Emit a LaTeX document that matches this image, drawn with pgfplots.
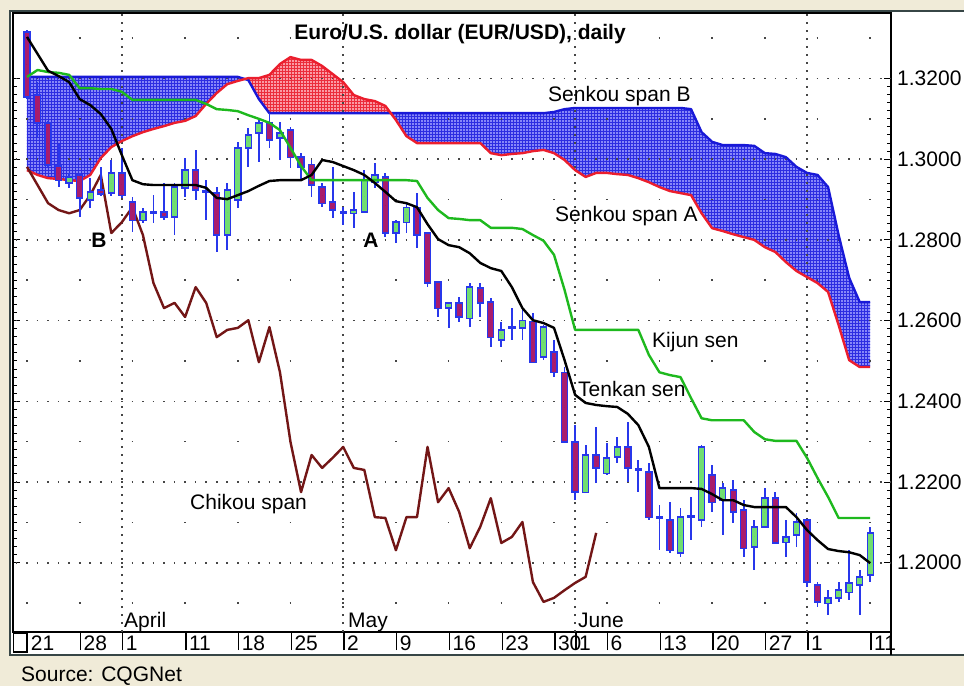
\documentclass[border=0pt]{standalone}
\usepackage{pgfplots}
\pgfplotsset{compat=1.18}
\usepackage{pgfplotstable}
\usepgfplotslibrary{fillbetween}
\usetikzlibrary{patterns}
\usepackage{fontspec}
\setmainfont{Liberation Sans}
\definecolor{beige}{RGB}{240,235,216}
\definecolor{framec}{RGB}{55,70,70}
\definecolor{wick}{RGB}{40,55,235}
\definecolor{bullc}{RGB}{112,222,112}
\definecolor{bearc}{RGB}{168,28,108}
\definecolor{kijunc}{RGB}{30,185,30}
\definecolor{spanAc}{RGB}{235,30,45}
\definecolor{spanBc}{RGB}{25,25,215}
\definecolor{chikouc}{RGB}{115,22,22}
\definecolor{cloudB}{RGB}{135,135,248}
\definecolor{cloudBline}{RGB}{45,45,225}
\definecolor{cloudA}{RGB}{250,155,165}
\definecolor{cloudAline}{RGB}{235,45,60}
\definecolor{dotc}{RGB}{70,70,70}
\newcommand\fs{\fontsize{21}{25}\selectfont}
\newcommand\tb{\vrule width 1.3pt height 17pt depth 0pt\hspace{2.5pt}}
\pgfplotsset{candle/.style={only marks, mark=*, mark size=0pt, mark options={draw=none, fill=none},
  error bars/.cd, y dir=both, y explicit, error mark=none}}

% candles: i open high low close
\pgfplotstableread{
i O H L C
4 1.2941 1.2966 1.2929 1.2956
6 1.2899 1.2953 1.2879 1.2919
8 1.2916 1.2998 1.2909 1.2966
11 1.2849 1.2879 1.2842 1.2869
14 1.2857 1.2941 1.2812 1.2931
15 1.2929 1.3003 1.2906 1.2973
19 1.2812 1.2941 1.2775 1.2924
20 1.2899 1.3043 1.2879 1.3028
21 1.3028 1.3077 1.2981 1.3060
22 1.3065 1.3102 1.2993 1.3090
24 1.3053 1.3092 1.2998 1.3065
31 1.2866 1.2919 1.2830 1.2874
32 1.2869 1.2973 1.2866 1.2948
33 1.2943 1.2991 1.2929 1.2961
35 1.2817 1.2849 1.2792 1.2844
36 1.2844 1.2891 1.2817 1.2881
40 1.2631 1.2646 1.2582 1.2644
42 1.2606 1.2693 1.2584 1.2683
45 1.2552 1.2597 1.2535 1.2577
47 1.2582 1.2626 1.2552 1.2601
49 1.2510 1.2589 1.2502 1.2584
53 1.2175 1.2292 1.2173 1.2267
55 1.2222 1.2297 1.2217 1.2260
56 1.2262 1.2312 1.2247 1.2287
62 1.2024 1.2136 1.2014 1.2113
64 1.2106 1.2292 1.2089 1.2287
66 1.2155 1.2198 1.2069 1.2185
69 1.2039 1.2106 1.1982 1.2089
70 1.2089 1.2185 1.2086 1.2160
72 1.2051 1.2106 1.2014 1.2064
73 1.2069 1.2123 1.2039 1.2101
76 1.1900 1.1932 1.1871 1.1913
77 1.1913 1.1952 1.1903 1.1932
78 1.1927 1.2031 1.1908 1.1950
79 1.1945 1.1982 1.1871 1.1965
80 1.1970 1.2089 1.1952 1.2074
}\bulltab

\pgfplotstableread{
i O H L C
0 1.3315 1.3320 1.3149 1.3154
1 1.3159 1.3191 1.3055 1.3090
2 1.3090 1.3095 1.2981 1.2986
3 1.2983 1.3038 1.2931 1.2948
5 1.2961 1.2966 1.2857 1.2904
7 1.2924 1.2981 1.2909 1.2914
9 1.2966 1.3028 1.2904 1.2911
10 1.2894 1.2906 1.2820 1.2849
12 1.2869 1.2911 1.2842 1.2867
13 1.2869 1.2941 1.2849 1.2857
16 1.2973 1.3023 1.2899 1.2924
17 1.2921 1.2948 1.2849 1.2919
18 1.2916 1.2931 1.2770 1.2812
23 1.3090 1.3114 1.3028 1.3048
25 1.3072 1.3080 1.2978 1.3005
26 1.3005 1.3015 1.2948 1.2981
27 1.2986 1.2998 1.2906 1.2936
28 1.2931 1.2941 1.2881 1.2891
29 1.2894 1.2981 1.2854 1.2874
30 1.2869 1.2881 1.2837 1.2866
34 1.2956 1.2966 1.2807 1.2817
37 1.2881 1.2916 1.2780 1.2812
38 1.2817 1.2820 1.2683 1.2693
39 1.2696 1.2699 1.2609 1.2631
41 1.2644 1.2659 1.2597 1.2609
43 1.2681 1.2693 1.2609 1.2644
44 1.2646 1.2656 1.2535 1.2559
46 1.2584 1.2631 1.2552 1.2582
48 1.2597 1.2619 1.2495 1.2497
50 1.2522 1.2552 1.2460 1.2472
51 1.2472 1.2485 1.2297 1.2299
52 1.2299 1.2341 1.2155 1.2175
54 1.2267 1.2336 1.2198 1.2235
57 1.2287 1.2349 1.2200 1.2235
58 1.2232 1.2255 1.2175 1.2230
59 1.2225 1.2247 1.2106 1.2113
60 1.2113 1.2143 1.2031 1.2111
61 1.2106 1.2150 1.2024 1.2031
63 1.2116 1.2163 1.2056 1.2113
65 1.2217 1.2242 1.2126 1.2150
67 1.2180 1.2205 1.2099 1.2126
68 1.2131 1.2155 1.2014 1.2036
71 1.2160 1.2175 1.2049 1.2049
74 1.2106 1.2108 1.1940 1.1952
75 1.1945 1.1952 1.1891 1.1903
}\beartab

% ichimoku lines: i tenkan kijun senkouA senkouB
\pgfplotstableread{
i T K A B
0 1.3303 1.3204 1.2973 1.3204
1 1.3261 1.3221 1.2961 1.3204
2 1.3219 1.3216 1.2953 1.3204
3 1.3206 1.3214 1.2951 1.3204
4 1.3191 1.3209 1.2948 1.3204
5 1.3149 1.3176 1.2946 1.3204
6 1.3134 1.3176 1.2961 1.3204
7 1.3112 1.3174 1.3003 1.3204
8 1.3075 1.3174 1.3030 1.3204
9 1.3010 1.3167 1.3045 1.3204
10 1.2948 1.3147 1.3057 1.3204
11 1.2938 1.3147 1.3067 1.3204
12 1.2936 1.3147 1.3075 1.3204
13 1.2936 1.3147 1.3082 1.3204
14 1.2936 1.3147 1.3090 1.3204
15 1.2936 1.3147 1.3095 1.3204
16 1.2936 1.3147 1.3107 1.3204
17 1.2929 1.3137 1.3137 1.3204
18 1.2904 1.3124 1.3164 1.3204
19 1.2901 1.3122 1.3186 1.3204
20 1.2911 1.3119 1.3194 1.3204
21 1.2921 1.3109 1.3201 1.3196
22 1.2934 1.3100 1.3201 1.3149
23 1.2946 1.3090 1.3209 1.3114
24 1.2948 1.3072 1.3236 1.3114
25 1.2948 1.3028 1.3253 1.3114
26 1.2948 1.2983 1.3246 1.3114
27 1.2961 1.2948 1.3246 1.3114
28 1.2998 1.2948 1.3231 1.3114
29 1.2993 1.2948 1.3211 1.3114
30 1.2983 1.2948 1.3191 1.3114
31 1.2973 1.2948 1.3159 1.3114
32 1.2961 1.2948 1.3149 1.3114
33 1.2941 1.2948 1.3144 1.3114
34 1.2919 1.2948 1.3132 1.3114
35 1.2896 1.2948 1.3097 1.3114
36 1.2891 1.2948 1.3057 1.3114
37 1.2881 1.2946 1.3040 1.3114
38 1.2839 1.2904 1.3040 1.3114
39 1.2802 1.2874 1.3040 1.3114
40 1.2787 1.2854 1.3040 1.3114
41 1.2782 1.2852 1.3040 1.3114
42 1.2767 1.2849 1.3040 1.3114
43 1.2743 1.2849 1.3040 1.3114
44 1.2730 1.2830 1.3015 1.3114
45 1.2723 1.2830 1.3010 1.3114
46 1.2683 1.2830 1.3013 1.3114
47 1.2631 1.2827 1.3015 1.3114
48 1.2601 1.2812 1.3020 1.3114
49 1.2594 1.2798 1.3023 1.3114
50 1.2582 1.2763 1.3015 1.3117
51 1.2502 1.2676 1.2998 1.3124
52 1.2416 1.2577 1.2973 1.3127
53 1.2396 1.2577 1.2956 1.3127
54 1.2391 1.2577 1.2966 1.3127
55 1.2388 1.2577 1.2966 1.3127
56 1.2386 1.2577 1.2963 1.3127
57 1.2369 1.2577 1.2961 1.3127
58 1.2341 1.2577 1.2953 1.3127
59 1.2287 1.2515 1.2943 1.3127
60 1.2185 1.2472 1.2931 1.3127
61 1.2185 1.2465 1.2921 1.3127
62 1.2185 1.2460 1.2916 1.3127
63 1.2185 1.2408 1.2911 1.3124
64 1.2183 1.2358 1.2866 1.3067
65 1.2170 1.2353 1.2829 1.3043
66 1.2155 1.2353 1.2822 1.3035
67 1.2155 1.2353 1.2814 1.3035
68 1.2143 1.2353 1.2807 1.3035
69 1.2138 1.2324 1.2800 1.3033
70 1.2138 1.2306 1.2782 1.3015
71 1.2138 1.2302 1.2770 1.3013
72 1.2138 1.2302 1.2745 1.3005
73 1.2113 1.2302 1.2723 1.2981
74 1.2081 1.2260 1.2708 1.2966
75 1.2056 1.2210 1.2693 1.2961
76 1.2034 1.2163 1.2671 1.2931
77 1.2029 1.2111 1.2589 1.2812
78 1.2026 1.2111 1.2502 1.2706
79 1.2019 1.2111 1.2485 1.2646
80 1.1999 1.2111 1.2485 1.2646
}\linestab

% chikou span
\pgfplotstableread{
j Ch
0 1.2981
1 1.2936
2 1.2891
3 1.2874
4 1.2866
5 1.2874
6 1.2911
7 1.2961
8 1.2817
9 1.2844
10 1.2881
11 1.2812
12 1.2693
13 1.2631
14 1.2644
15 1.2609
16 1.2683
17 1.2644
18 1.2559
19 1.2577
20 1.2582
21 1.2601
22 1.2497
23 1.2584
24 1.2472
25 1.2299
26 1.2175
27 1.2267
28 1.2235
29 1.2260
30 1.2287
31 1.2235
32 1.2230
33 1.2113
34 1.2111
35 1.2031
36 1.2113
37 1.2113
38 1.2287
39 1.2150
40 1.2185
41 1.2126
42 1.2036
43 1.2089
44 1.2160
45 1.2049
46 1.2064
47 1.2101
48 1.1952
49 1.1903
50 1.1913
51 1.1932
52 1.1950
53 1.1965
54 1.2074
}\chiktab

\begin{document}
\begin{tikzpicture}
% beige surround only (no fill over the plot area, so the cloud layer stays visible)
\fill[beige] (0pt,676pt) rectangle (964pt,686pt);
\fill[beige] (0pt,0pt) rectangle (964pt,30pt);
\fill[beige] (0pt,0pt) rectangle (9pt,686pt);
\draw[framec, line width=2.5pt] (964pt,31pt) -- (10pt,31pt) -- (10pt,675pt) -- (964pt,675pt);
\begin{axis}[
  at={(13pt,54pt)}, anchor=south west, scale only axis,
  width=878pt, height=619pt,
  xmin=-1.328, xmax=81.97, ymin=1.18284, ymax=1.33623,
  axis line style={black, line width=1.2pt},
  ytick={1.20,1.22,1.24,1.26,1.28,1.30,1.32},
  minor y tick num=9,
  yticklabel pos=right,
  ytick pos=both,
  tick align=inside,
  major tick length=7pt, minor tick length=4pt,
  tick style={black, line width=1pt},
  /pgf/number format/assume math mode=true,
  scaled y ticks=false,
  yticklabel style={/pgf/number format/fixed, /pgf/number format/fixed zerofill,
     /pgf/number format/precision=4, font=\fs, anchor=west, inner sep=0pt, xshift=6pt},
  xtick={0,5,9,15,20,25,30,35,40,45,50,52,55,60,65,70,74,80},
  xticklabels={{\tb 21},{\tb 28},{\tb 1},{\tb 11},{\tb 18},{\tb 25},{\tb 2},{\tb 9},{\tb 16},{\tb 23},{\tb 30},{\tb 1},{\tb 6},{\tb 13},{\tb 20},{\tb 27},{\tb 1},{\tb 11}},
  xtick style={draw=none},
  xticklabel style={font=\fs, anchor=north west, inner sep=0pt, yshift=-1pt},
]
% cloud
\addplot[draw=none, name path=SA, forget plot] table[x=i, y=A]{\linestab};
\addplot[draw=none, name path=SB, forget plot] table[x=i, y=B]{\linestab};
\addplot[fill=cloudB, forget plot] fill between[of=SA and SB, split,
  every even segment/.style={fill=cloudB, postaction={pattern=grid, pattern color=cloudBline}},
  every odd segment/.style={fill=cloudA, postaction={pattern=grid, pattern color=cloudAline}}];
% grid dots
\pgfplotsinvokeforeach{1.20,1.22,1.24,1.26,1.28,1.30,1.32}{
  \draw[dotc, line width=1.6pt, dash pattern=on 1.6pt off 8.94pt, dash phase=7.88pt]
    (axis cs:-1.328,#1) -- (axis cs:81.97,#1);
}
\pgfplotsinvokeforeach{1.19,1.21,1.23,1.25,1.27,1.29,1.31,1.33}{
  \draw[dotc, line width=1.6pt, dash pattern=on 1.6pt off 51.1pt, dash phase=39.5pt]
    (axis cs:-1.328,#1) -- (axis cs:81.97,#1);
}
\pgfplotsinvokeforeach{9,30,52,74}{
  \draw[dotc, line width=1.6pt, dash pattern=on 1.6pt off 6.4pt]
    (axis cs:#1,1.18284) -- (axis cs:#1,1.33623);
}
\addplot[spanBc, line width=2.4pt, line join=round] table[x=i, y=B]{\linestab};
\addplot[spanAc, line width=2.4pt, line join=round] table[x=i, y=A]{\linestab};
\addplot[chikouc, line width=2.4pt, line join=round] table[x=j, y=Ch]{\chiktab};
% candles: wicks
\addplot[candle, error bar style={wick, line width=1.8pt}]
  table[x=i, y expr={(\thisrow{H}+\thisrow{L})/2}, y error expr={(\thisrow{H}-\thisrow{L})/2}]{\bulltab};
\addplot[candle, error bar style={wick, line width=1.8pt}]
  table[x=i, y expr={(\thisrow{H}+\thisrow{L})/2}, y error expr={(\thisrow{H}-\thisrow{L})/2}]{\beartab};
% body outlines
\addplot[candle, error bar style={wick, line width=7.4pt}]
  table[x=i, y expr={(\thisrow{O}+\thisrow{C})/2}, y error expr={abs(\thisrow{O}-\thisrow{C})/2+0.00018}]{\bulltab};
\addplot[candle, error bar style={wick, line width=7.4pt}]
  table[x=i, y expr={(\thisrow{O}+\thisrow{C})/2}, y error expr={abs(\thisrow{O}-\thisrow{C})/2+0.00018}]{\beartab};
% body fills
\addplot[candle, error bar style={bullc, line width=4.8pt}]
  table[x=i, y expr={(\thisrow{O}+\thisrow{C})/2}, y error expr={max(abs(\thisrow{O}-\thisrow{C})/2-0.00016,0)}]{\bulltab};
\addplot[candle, error bar style={bearc, line width=4.8pt}]
  table[x=i, y expr={(\thisrow{O}+\thisrow{C})/2}, y error expr={max(abs(\thisrow{O}-\thisrow{C})/2-0.00016,0)}]{\beartab};
% kijun and tenkan
\addplot[kijunc, line width=2.4pt, line join=round] table[x=i, y=K]{\linestab};
\addplot[black, line width=2.4pt, line join=round] table[x=i, y=T]{\linestab};
\end{axis}
% date row details
\draw[black, line width=1.3pt] (13.6pt,34pt) rectangle (27pt,53pt);
\draw[black, line width=1.2pt] (891pt,54pt) -- (891pt,31pt);
% labels
\node[font=\fs\bfseries, anchor=base, inner sep=0pt] at (460pt,646pt) {Euro/U.S. dollar (EUR/USD), daily};
\node[font=\fs, anchor=base west, inner sep=0pt] at (548pt,584pt) {Senkou span B};
\node[font=\fs, anchor=base west, inner sep=0pt] at (555pt,464pt) {Senkou span A};
\node[font=\fs, anchor=base west, inner sep=0pt] at (652pt,338pt) {Kijun sen};
\node[font=\fs, anchor=base west, inner sep=0pt] at (578pt,289pt) {Tenkan sen};
\node[font=\fs, anchor=base west, inner sep=0pt] at (190pt,176pt) {Chikou span};
\node[font=\fs\bfseries, anchor=base, inner sep=0pt] at (371pt,438pt) {A};
\node[font=\fs\bfseries, anchor=base, inner sep=0pt] at (99pt,438pt) {B};
\node[font=\fs, anchor=base west, inner sep=0pt] at (124pt,59pt) {April};
\node[font=\fs, anchor=base west, inner sep=0pt] at (348pt,59pt) {May};
\node[font=\fs, anchor=base west, inner sep=0pt] at (578pt,59pt) {June};
\node[font=\fs, anchor=base west, inner sep=0pt] at (21pt,5pt) {Source: CQGNet};
\pgfresetboundingbox
\path[use as bounding box] (0pt,0pt) rectangle (964pt,686pt);
\end{tikzpicture}
\end{document}
